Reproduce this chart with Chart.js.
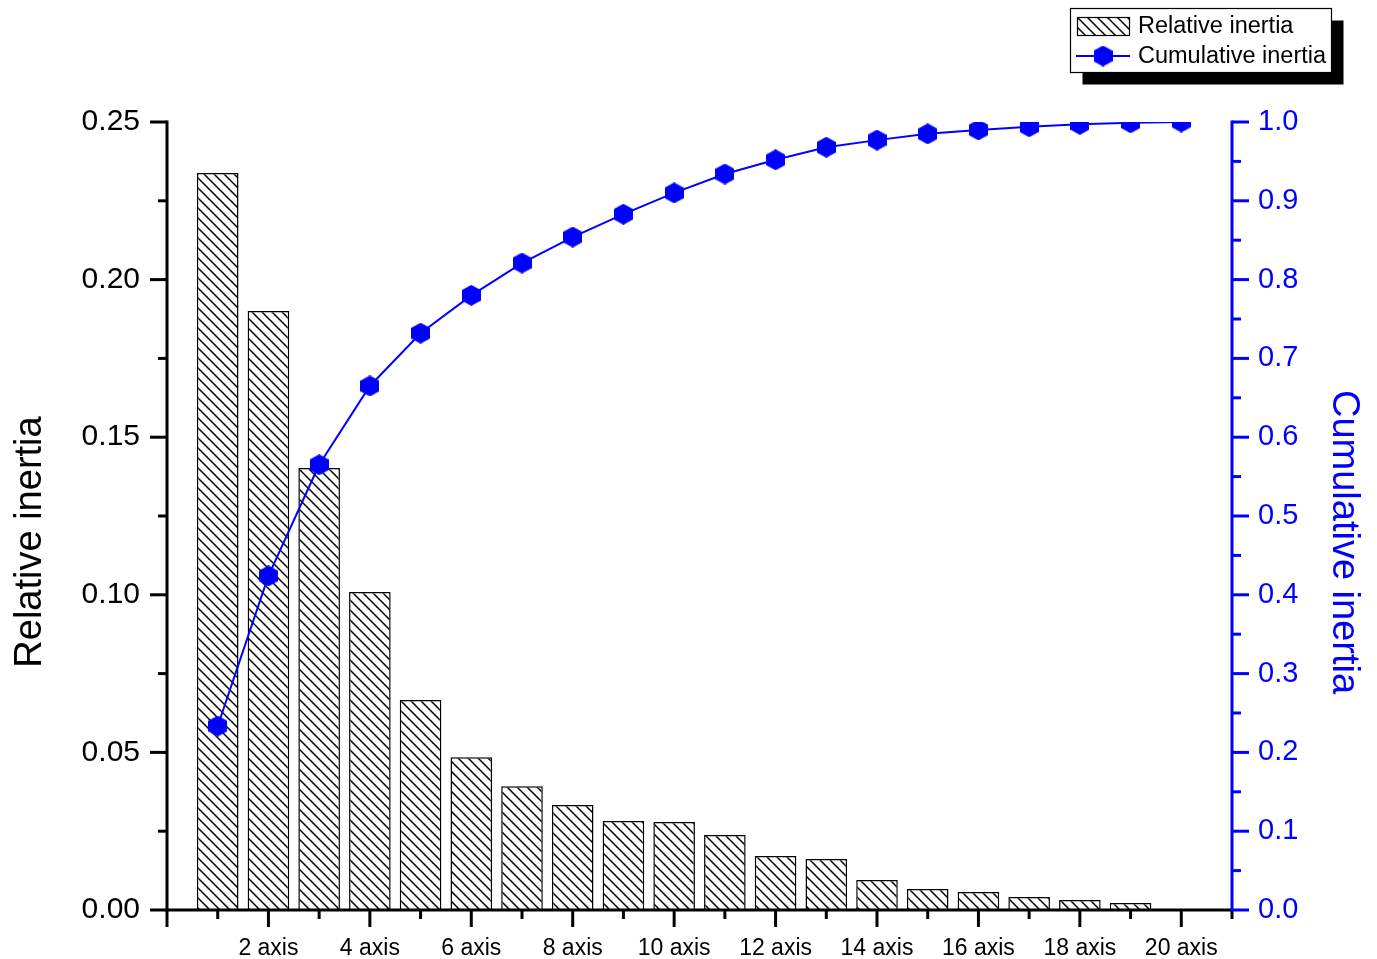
<!DOCTYPE html>
<html>
<head>
<meta charset="utf-8">
<title>Relative and cumulative inertia</title>
<script src="https://cdn.jsdelivr.net/npm/chart.js@4/dist/chart.umd.min.js"></script>
<style>
  html, body { margin: 0; padding: 0; background: #ffffff; }
  #wrap { width: 1377px; height: 959px; position: relative; }
</style>
</head>
<body>
<div id="wrap"><canvas id="c"></canvas></div>
<script>
// Axis numbers and inertia shares per axis
const barAxes = [1, 2, 3, 4, 5, 6, 7, 8, 9, 10, 11, 12, 13, 14, 15, 16, 17, 18, 19];
const relativeInertia = [0.2338, 0.1900, 0.1402, 0.1009, 0.0666, 0.0485, 0.0393, 0.0333, 0.0282,
                         0.0279, 0.0238, 0.0171, 0.0162, 0.0095, 0.0067, 0.0057, 0.0041, 0.0032, 0.0022];
const lineAxes = [1, 2, 3, 4, 5, 6, 7, 8, 9, 10, 11, 12, 13, 14, 15, 16, 17, 18, 19, 20];
const cumulativeInertia = [0.2335, 0.424, 0.565, 0.665, 0.732, 0.780, 0.821, 0.854, 0.883, 0.910,
                           0.934, 0.952, 0.968, 0.977, 0.985, 0.990, 0.994, 0.997, 0.999, 1.000];

// Labelled x positions
const xTickValues = [2, 4, 6, 8, 10, 12, 14, 16, 18, 20];
const xTickLabels = ['2 axis', '4 axis', '6 axis', '8 axis', '10 axis', '12 axis', '14 axis', '16 axis', '18 axis', '20 axis'];

const seriesNames = ['Relative inertia', 'Cumulative inertia'];
const leftTitle = 'Relative inertia';
const rightTitle = 'Cumulative inertia';

const FONT = '"Liberation Sans", Arial, sans-serif';
const BLUE = '#0000ff';
const canvas = document.getElementById('c');
const ctx0 = canvas.getContext('2d');

// Diagonal "\" hatch fill
function makeHatch() {
  const s = 10;
  const t = document.createElement('canvas');
  t.width = s; t.height = s;
  const g = t.getContext('2d');
  g.fillStyle = '#ffffff';
  g.fillRect(0, 0, s, s);
  g.strokeStyle = '#000000';
  g.lineWidth = 1.5;
  g.beginPath();
  g.moveTo(-1, -1); g.lineTo(s + 1, s + 1);
  g.moveTo(-1, s - 1); g.lineTo(1, s + 1);
  g.moveTo(s - 1, -1); g.lineTo(s + 1, 1);
  g.stroke();
  return ctx0.createPattern(t, 'repeat');
}

// Hexagon marker (pointy top and bottom)
function makeHexagon(w, h, color) {
  const c = document.createElement('canvas');
  c.width = w; c.height = h;
  const g = c.getContext('2d');
  g.fillStyle = color;
  g.beginPath();
  g.moveTo(w / 2, 0);
  g.lineTo(w, h / 4);
  g.lineTo(w, 3 * h / 4);
  g.lineTo(w / 2, h);
  g.lineTo(0, 3 * h / 4);
  g.lineTo(0, h / 4);
  g.closePath();
  g.fill();
  return c;
}

const hatch = makeHatch();
const hexagon = makeHexagon(19, 21, BLUE);

// Axis lines, major/minor tick marks, axis titles and the shadowed legend box
const frame = {
  id: 'frame',
  afterDraw(chart) {
    const { ctx, chartArea: a, scales } = chart;
    const x = scales.x, y = scales.y, y1 = scales.y1;
    const MAJ = 17, MIN = 9;
    ctx.save();
    ctx.lineCap = 'butt';

    function seg(x0, y0, x1, y1p) {
      ctx.beginPath(); ctx.moveTo(x0, y0); ctx.lineTo(x1, y1p); ctx.stroke();
    }

    // left axis
    ctx.strokeStyle = '#000'; ctx.lineWidth = 3;
    seg(a.left, a.top - 1.5, a.left, a.bottom + 1.5);
    const ls = 0.025;
    for (let i = 0; i * ls <= y.max + 1e-9; i++) {
      const p = y.getPixelForValue(i * ls);
      seg(a.left, p, a.left - (i % 2 === 0 ? MAJ : MIN), p);
    }

    // bottom axis
    seg(a.left, a.bottom, a.right, a.bottom);
    for (let v = Math.ceil(x.min); v <= x.max; v++) {
      const p = x.getPixelForValue(v);
      seg(p, a.bottom, p, a.bottom + (v % 2 === 0 ? MAJ : MIN));
    }

    // right axis
    ctx.strokeStyle = BLUE;
    seg(a.right, a.top - 1.5, a.right, a.bottom + 1.5);
    const rs = 0.05;
    for (let i = 0; i * rs <= y1.max + 1e-9; i++) {
      const p = y1.getPixelForValue(i * rs);
      seg(a.right, p, a.right + (i % 2 === 0 ? MAJ : MIN), p);
    }

    // axis titles
    const midY = 542;
    ctx.font = '38px ' + FONT;
    ctx.textAlign = 'center';
    ctx.textBaseline = 'middle';
    ctx.fillStyle = '#000';
    ctx.save(); ctx.translate(31, midY); ctx.rotate(-Math.PI / 2); ctx.fillText(leftTitle, 0, 0); ctx.restore();
    ctx.fillStyle = BLUE;
    ctx.save(); ctx.translate(1343, midY); ctx.rotate(Math.PI / 2); ctx.fillText(rightTitle, 0, 0); ctx.restore();

    // legend
    const bx = 1070.5, by = 8.5, bw = 261, bh = 64;
    ctx.fillStyle = '#000';
    ctx.fillRect(bx + 12, by + 12, bw, bh);
    ctx.fillStyle = '#fff';
    ctx.fillRect(bx, by, bw, bh);
    ctx.strokeStyle = '#000'; ctx.lineWidth = 1.2;
    ctx.strokeRect(bx, by, bw, bh);

    ctx.fillStyle = hatch;
    ctx.fillRect(1077, 17, 52, 18);
    ctx.lineWidth = 1.2;
    ctx.strokeRect(1077.5, 17.5, 52, 18);

    ctx.strokeStyle = BLUE; ctx.lineWidth = 2;
    seg(1076, 56, 1130, 56);
    ctx.drawImage(hexagon, 1103 - hexagon.width / 2, 56 - hexagon.height / 2);

    ctx.fillStyle = '#000';
    ctx.font = '23.5px ' + FONT;
    ctx.textAlign = 'left';
    ctx.textBaseline = 'middle';
    ctx.fillText(chart.data.datasets[0].label, 1138, 27);
    ctx.fillText(chart.data.datasets[1].label, 1138, 57);
    ctx.restore();
  }
};

new Chart(canvas, {
  type: 'bar',
  data: {
    datasets: [
      {
        type: 'bar',
        label: seriesNames[0],
        data: barAxes.map((a, i) => ({ x: a, y: relativeInertia[i] })),
        backgroundColor: hatch,
        borderColor: '#000000',
        borderWidth: 1.5,
        barPercentage: 1,
        categoryPercentage: 0.82,
        yAxisID: 'y',
        order: 1
      },
      {
        type: 'line',
        label: seriesNames[1],
        data: lineAxes.map((a, i) => ({ x: a, y: cumulativeInertia[i] })),
        borderColor: BLUE,
        borderWidth: 2,
        pointStyle: hexagon,
        pointRadius: 10,
        pointBackgroundColor: BLUE,
        pointBorderColor: BLUE,
        tension: 0,
        fill: false,
        yAxisID: 'y1',
        order: 0
      }
    ]
  },
  options: {
    responsive: true,
    maintainAspectRatio: false,
    animation: false,
    layout: { padding: { top: 122, left: 0, right: 0, bottom: 0 } },
    plugins: {
      legend: { display: false },
      tooltip: { enabled: false }
    },
    scales: {
      x: {
        type: 'linear',
        position: 'bottom',
        min: 0,
        max: 21,
        offset: false,
        grid: { display: false, drawTicks: false, offset: false },
        border: { display: false },
        ticks: {
          stepSize: 1,
          autoSkip: false,
          maxRotation: 0,
          padding: 25,
          color: '#000',
          font: { family: FONT, size: 23 },
          callback: (v) => {
            const k = xTickValues.indexOf(v);
            return k >= 0 ? xTickLabels[k] : '';
          }
        },
        afterFit: (s) => { s.height = 49; }
      },
      y: {
        type: 'linear',
        position: 'left',
        min: 0,
        max: 0.25,
        grid: { display: false, drawTicks: false },
        border: { display: false },
        ticks: {
          stepSize: 0.05,
          padding: 27,
          color: '#000',
          font: { family: FONT, size: 30 },
          callback: (v) => Number(v).toFixed(2)
        },
        afterFit: (s) => { s.width = 167; }
      },
      y1: {
        type: 'linear',
        position: 'right',
        min: 0,
        max: 1,
        grid: { display: false, drawTicks: false },
        border: { display: false },
        ticks: {
          stepSize: 0.1,
          padding: 26,
          color: BLUE,
          font: { family: FONT, size: 29 },
          callback: (v) => Number(v).toFixed(1)
        },
        afterFit: (s) => { s.width = 145; }
      }
    }
  },
  plugins: [frame]
});
</script>
</body>
</html>
